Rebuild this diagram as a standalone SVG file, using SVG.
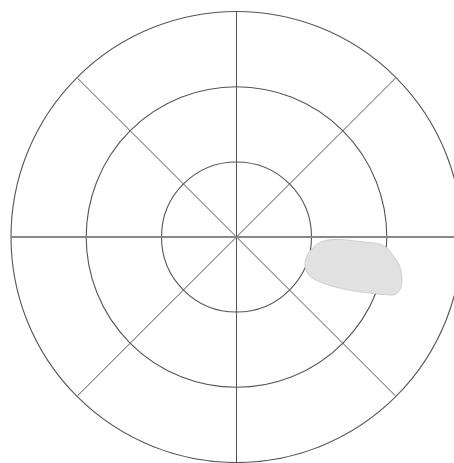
<svg xmlns="http://www.w3.org/2000/svg" width="454" height="463" viewBox="0 0 454 463">
<style>
.ring{fill:none;stroke:#555;stroke-width:1.1}
.spoke{stroke:#555;stroke-width:1}
.axis{stroke:#888;stroke-width:2.2}
.blob{fill:#e1e1e1;stroke:#cfcfcf;stroke-width:1}
</style>
<rect width="454" height="463" fill="#fff"/>
<g id="rings">
<circle class="ring" cx="236.5" cy="237" r="225.5"/>
<circle class="ring" cx="236.5" cy="237" r="150.3"/>
<circle class="ring" cx="236.5" cy="237" r="75"/>
</g>
<g id="connectors">
<line class="spoke" x1="236.5" y1="11.5" x2="236.5" y2="462.5"/>
<line class="spoke" x1="77.4" y1="78" x2="395.6" y2="396"/>
<line class="spoke" x1="77.4" y1="396" x2="395.6" y2="78"/>
<line class="axis" x1="11" y1="237" x2="454" y2="237"/>
</g>
<g id="blob">
<path class="blob" d="M313,248 C318,242 325,240 333,239.5 C345,239 360,242 375,243 C385,244 390,250 393,256 C399,262 402,270 402,280 C402,290 398,294 393,295 C385,295 376,294 366,292.5 C350,291 332,287 320,282 C310,278 305,273 305,265 C305,258 308,252 313,248 Z"/>
</g>
</svg>
